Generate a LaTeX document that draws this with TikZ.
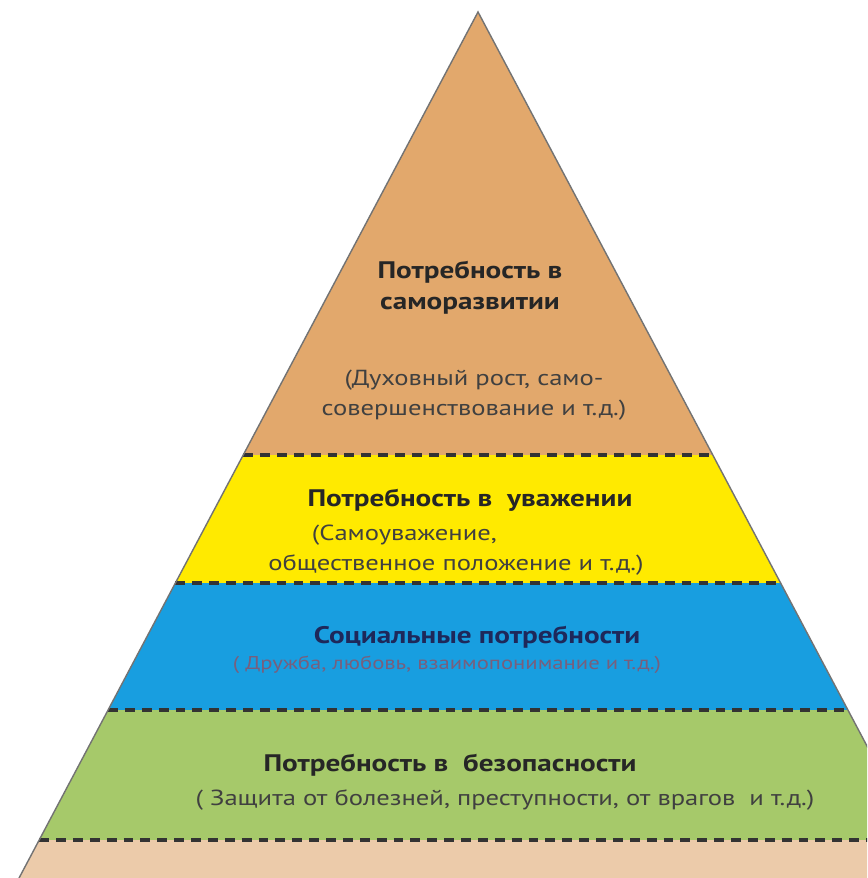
\documentclass[tikz,border=0pt]{standalone}
\usepackage{fontspec}
\setmainfont{PT Sans}
\newfontfamily\pyrfont[FakeStretch=1.22]{PT Sans}

\definecolor{selfcol}{RGB}{226,168,108}
\definecolor{respcol}{RGB}{255,234,0}
\definecolor{socialcol}{RGB}{24,158,224}
\definecolor{safecol}{RGB}{166,201,106}
\definecolor{basecol}{RGB}{236,203,170}
\definecolor{navytext}{RGB}{30,40,90}
\definecolor{mutedtext}{RGB}{120,95,125}

\begin{document}
\begin{tikzpicture}[x=0.025cm,y=-0.025cm,
  title/.style={font=\pyrfont\bfseries\fontsize{17}{22}\selectfont, text=black!85, align=center, inner sep=0pt},
  descr/.style={font=\pyrfont\fontsize{15.5}{21}\selectfont, text=black!75, align=center, inner sep=0pt},
  divider/.style={line width=2.2pt, black!80, dash pattern=on 7pt off 5pt},
  edge/.style={line width=1pt, black!55}]
\useasboundingbox[fill=white] (0,0) rectangle (867,878);
\clip (0,0) rectangle (867,878);

% corners of the layers
\coordinate (apex) at (478,12);
\coordinate (l1) at (243.2,455); \coordinate (r1) at (712.8,455);
\coordinate (l2) at (175.4,583); \coordinate (r2) at (780.6,583);
\coordinate (l3) at (108.1,710); \coordinate (r3) at (847.9,710);
\coordinate (l4) at (39.2,840);  \coordinate (r4) at (916.8,840);
\coordinate (l5) at (7.4,900);   \coordinate (r5) at (948.6,900);

% layers
\fill[selfcol] (apex) -- (r1) -- (l1) -- cycle;
\fill[respcol] (l1) -- (r1) -- (r2) -- (l2) -- cycle;
\fill[socialcol] (l2) -- (r2) -- (r3) -- (l3) -- cycle;
\fill[safecol] (l3) -- (r3) -- (r4) -- (l4) -- cycle;
\fill[basecol] (l4) -- (r4) -- (r5) -- (l5) -- cycle;

% dashed borders
\draw[divider] (l1) -- (r1);
\draw[divider] (l2) -- (r2);
\draw[divider] (l3) -- (r3);
\draw[divider] (l4) -- (r4);

% outline
\draw[edge] (l5) -- (apex) -- (r5);

% texts
\node[title] (selft) at (470,288) {Потребность в\\саморазвитии};
\node[descr] (selfd) at (474,395) {(Духовный рост, само-\\совершенствование и т.д.)};
\node[title] (respt) at (470,500) {Потребность в~~уважении};
\node[descr, align=left, anchor=west] (respd) at (268,550) {\hspace*{31pt}(Самоуважение,\\общественное положение и т.д.)};
\node[title, text=navytext] (socialt) at (477,637) {Социальные потребности};
\node[descr, text=mutedtext, font=\pyrfont\fontsize{13.2}{17}\selectfont] (sociald) at (447,665) {( Дружба, любовь, взаимопонимание и т.д.)};
\node[title] (safet) at (450,765) {Потребность в~~безопасности};
\node[descr] (safed) at (505,800) {( Защита от болезней, преступности, от врагов~~и т.д.)};
\end{tikzpicture}
\end{document}
